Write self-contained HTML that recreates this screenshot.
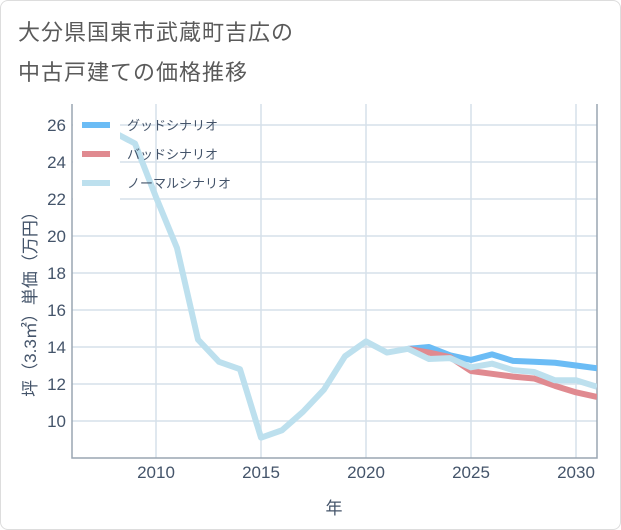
<!DOCTYPE html>
<html><head><meta charset="utf-8"><style>
html,body{margin:0;padding:0;background:#fff;}
body{width:621px;height:530px;overflow:hidden;font-family:"Liberation Sans","Noto Sans CJK JP",sans-serif;}
#card{position:absolute;left:0;top:0;width:619px;height:528px;border:1px solid #ddd;border-radius:8px;}
.title{position:absolute;left:18px;font-size:22px;color:#5a5a5a;letter-spacing:1px;font-family:"Liberation Sans","Noto Sans CJK JP",sans-serif;}
</style></head><body>
<div id="card"></div>
<div class="title" style="top:15px">大分県国東市武蔵町吉広の</div>
<div class="title" style="top:55px">中古戸建ての価格推移</div>
<svg id="chart" width="621" height="530" style="position:absolute;left:0;top:0"></svg>
<script>
const years=[2008,2009,2010,2011,2012,2013,2014,2015,2016,2017,2018,2019,2020,2021,2022,2023,2024,2025,2026,2027,2028,2029,2030,2031];
const normal=[25.6,25.0,22.1,19.35,14.4,13.2,12.8,9.1,9.5,10.5,11.7,13.5,14.3,13.7,13.9,13.35,13.4,12.9,13.1,12.75,12.65,12.2,12.2,11.85];
const goodYears=[2022,2023,2024,2025,2026,2027,2028,2029,2030,2031];
const good=[13.9,14.0,13.55,13.3,13.6,13.25,13.2,13.15,13.0,12.85];
const badYears=[2022,2023,2024,2025,2026,2027,2028,2029,2030,2031];
const bad=[13.9,13.7,13.45,12.7,12.55,12.4,12.3,11.9,11.55,11.3];
const yTicks=[10,12,14,16,18,20,22,24,26];
const xTicks=[2010,2015,2020,2025,2030];
const legendLabels=["グッドシナリオ","バッドシナリオ","ノーマルシナリオ"];
const colors=["#6bbcf5","#e08a90","#bde0ee"];

const L=72,R=597,T=104,B=458;
const xs=y=>156+(y-2010)*21;
const ys=v=>421-(v-10)*18.5;
const svg=document.getElementById('chart');
const NS='http://www.w3.org/2000/svg';
function mk(tag,attrs){const e=document.createElementNS(NS,tag);for(const k in attrs)e.setAttribute(k,attrs[k]);svg.appendChild(e);return e;}

const clip=mk('clipPath',{id:'pc'});
const cr=document.createElementNS(NS,'rect');cr.setAttribute('x',L);cr.setAttribute('y',T);cr.setAttribute('width',R-L);cr.setAttribute('height',B-T);clip.appendChild(cr);

yTicks.forEach(v=>{
  const g=mk('line',{x1:L,x2:R,y1:ys(v),y2:ys(v),stroke:'#d5e0ea','stroke-width':1.5});
  
  
  const t=mk('text',{x:66,y:ys(v)+6,'text-anchor':'end','font-size':17,fill:'#44546a'});
  t.textContent=v;
  
  
});
xTicks.forEach(y=>{
  const g=mk('line',{x1:xs(y),x2:xs(y),y1:T,y2:B,stroke:'#d5e0ea','stroke-width':1.5});
  
  
  const t=mk('text',{x:xs(y),y:478,'text-anchor':'middle','font-size':17,fill:'#44546a'});
  t.textContent=y;
  
  
});
const ax=mk('path',{d:`M${L} ${T} V${B} H${R} V${T}`,fill:'none',stroke:'#9aa6b2','stroke-width':1.5});



function series(xv,yv,color,name){
  const p=mk('polyline',{points:xv.map((x,i)=>xs(x)+','+ys(yv[i])).join(' '),fill:'none',stroke:color,'stroke-width':6,'stroke-linejoin':'round','clip-path':'url(#pc)'});
  
  
}
series(goodYears,good,colors[0],'good-scenario-line');
series(badYears,bad,colors[1],'bad-scenario-line');
series(years,normal,colors[2],'normal-scenario-line');

const lb=mk('rect',{x:L+1,y:T+1,width:47,height:96,fill:'#fff'});


legendLabels.forEach((s,i)=>{
  const yy=125+i*29;
  const l=mk('line',{x1:82,x2:110,y1:yy,y2:yy,stroke:colors[i],'stroke-width':6});
  
  
  const t=mk('text',{x:127,y:yy+5,'font-size':13,fill:'#44546a'});
  t.textContent=s;
  
  
});
const xt=mk('text',{x:334,y:514,'text-anchor':'middle','font-size':17,fill:'#44546a'});
xt.textContent='年';


const yt=mk('text',{x:0,y:0,'text-anchor':'middle','font-size':17,fill:'#44546a',transform:'translate(36,300) rotate(-90)'});
yt.textContent='坪（3.3㎡）単価（万円）';


</script>
</body></html>
